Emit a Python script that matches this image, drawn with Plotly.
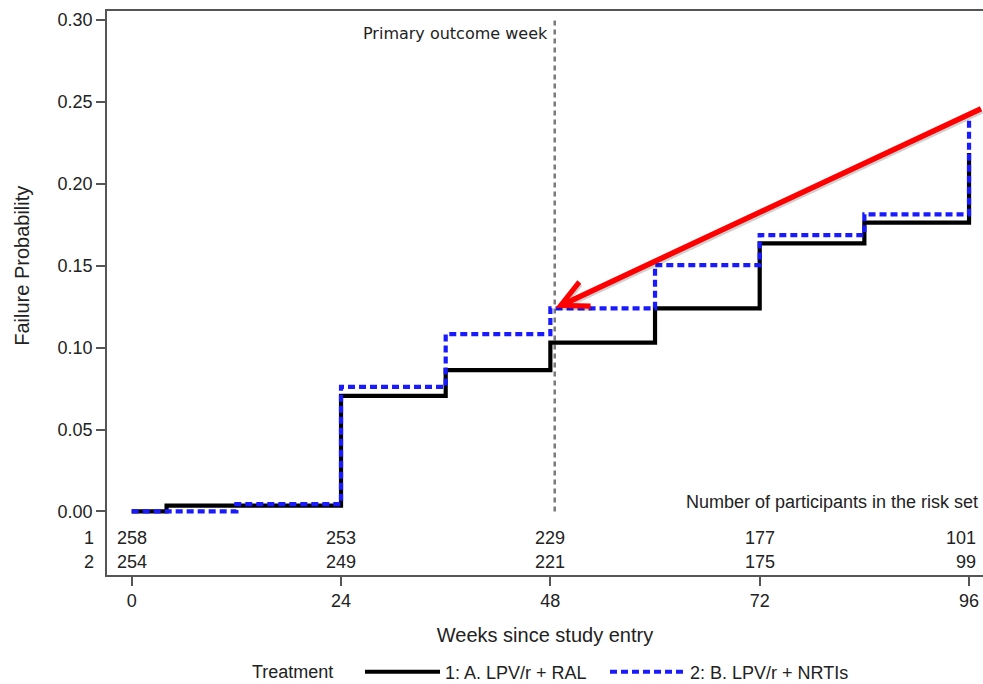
import plotly.graph_objects as go

# ---------------- data ----------------
weeks_black = [0, 4, 24, 36, 48, 60, 72, 84, 96]
fail_black = [0.0, 0.0035, 0.0706, 0.0863, 0.1031, 0.1240, 0.1637, 0.1763, 0.2188]

weeks_blue = [0, 12, 24, 36, 48, 60, 72, 84, 96]
fail_blue = [0.0, 0.0045, 0.0761, 0.1083, 0.1240, 0.1504, 0.1687, 0.1814, 0.2400]

name_black = "1: A. LPV/r + RAL"
name_blue = "2: B. LPV/r + NRTIs"

tick_weeks = [0, 24, 48, 72, 96]
risk_group1 = [258, 253, 229, 177, 101]
risk_group2 = [254, 249, 221, 175, 99]
risk_row_labels = ["1", "2"]

y_ticks = [0.00, 0.05, 0.10, 0.15, 0.20, 0.25, 0.30]
primary_week = 48.5

# ---------------- style ----------------
FONT = "Liberation Sans, Arial, sans-serif"
TXT = "#222222"
AX = "#555555"

fig = go.Figure()

fig.add_trace(go.Scatter(
    x=weeks_black, y=fail_black, mode="lines", line_shape="hv",
    name=name_black, line=dict(color="black", width=4.2),
))
fig.add_trace(go.Scatter(
    x=weeks_blue, y=fail_blue, mode="lines", line_shape="hv",
    name=name_blue, line=dict(color="#1a1aff", width=4.2, dash="7px,4px"),
))

# primary outcome reference line
fig.add_shape(type="line", xref="x", yref="y",
              x0=primary_week, x1=primary_week, y0=0, y1=0.30,
              line=dict(color="#7a7a7a", width=2.5, dash="5px,4px"), layer="below")

ann = []
ann.append(dict(x=47.94, y=0.2915, xref="x", yref="y", text="Primary outcome week",
                showarrow=False, xanchor="right", yanchor="middle",
                font=dict(family="DejaVu Sans, sans-serif", size=16, color=TXT)))

ann.append(dict(x=97.3, y=0.0058, xref="x", yref="y",
                text="Number of participants in the risk set",
                showarrow=False, xanchor="right", yanchor="middle",
                font=dict(family=FONT, size=18, color=TXT)))

row_y = [-0.0162, -0.0309]
for row, vals in enumerate([risk_group1, risk_group2]):
    for wk, v in zip(tick_weeks, vals):
        last = wk == tick_weeks[-1]
        ann.append(dict(x=97.0 if last else wk, y=row_y[row], xref="x", yref="y",
                        text=str(v), showarrow=False,
                        xanchor="right" if last else "center", yanchor="middle",
                        font=dict(family=FONT, size=18, color=TXT)))
    ann.append(dict(x=-0.012, y=row_y[row], xref="paper", yref="y",
                    text=risk_row_labels[row], showarrow=False,
                    xanchor="right", yanchor="middle",
                    font=dict(family=FONT, size=18, color=TXT)))

# y-axis title (centered on the 0 - 0.30 part of the axis)
ann.append(dict(x=-0.097, y=0.15, xref="paper", yref="y", text="Failure Probability",
                textangle=-90, showarrow=False, xanchor="center", yanchor="middle",
                font=dict(family=FONT, size=20, color=TXT)))

# legend heading
ann.append(dict(x=0.1632, y=-0.172, xref="paper", yref="paper", text="Treatment",
                showarrow=False, xanchor="left", yanchor="middle",
                font=dict(family=FONT, size=18, color=TXT)))

# red arrow with a soft shadow
tip_x, tip_y = 48.6, 0.1243
tail_x, tail_y = 97.55, 0.2463
ann.append(dict(x=tip_x + 0.12, y=tip_y - 0.0013, ax=tail_x + 0.12, ay=tail_y - 0.0013,
                xref="x", yref="y", axref="x", ayref="y", text="",
                showarrow=True, arrowhead=5, arrowsize=0.95, arrowwidth=5.5,
                arrowcolor="rgba(0,0,0,0.18)", standoff=0))
ann.append(dict(x=tip_x, y=tip_y, ax=tail_x, ay=tail_y,
                xref="x", yref="y", axref="x", ayref="y", text="",
                showarrow=True, arrowhead=5, arrowsize=0.95, arrowwidth=5.5,
                arrowcolor="#ff0000", standoff=0))

fig.update_layout(
    width=983, height=684,
    margin=dict(l=107, r=0, t=11, b=109, autoexpand=False),
    paper_bgcolor="white", plot_bgcolor="white",
    font=dict(family=FONT, size=18, color=TXT),
    showlegend=True,
    legend=dict(orientation="h", x=0.2888, xanchor="left",
                y=0.0175, yref="container", yanchor="middle",
                font=dict(family=FONT, size=18, color=TXT),
                entrywidth=155, entrywidthmode="pixels", itemwidth=75,
                bgcolor="rgba(0,0,0,0)"),
    annotations=ann,
)

fig.update_xaxes(
    range=[-2.83, 97.6], tickvals=tick_weeks, ticktext=[str(t) for t in tick_weeks],
    showgrid=False, zeroline=False, showline=True, linecolor=AX, linewidth=1.5,
    mirror=True, ticks="outside", ticklen=9, tickwidth=1.5, tickcolor=AX,
    tickfont=dict(family=FONT, size=18, color=TXT),
    title=dict(text="Weeks since study entry", font=dict(family=FONT, size=20, color=TXT),
               standoff=18),
)
fig.update_yaxes(
    range=[-0.0388, 0.3055], tickvals=y_ticks, tickformat=".2f",
    showgrid=False, zeroline=False, showline=True, linecolor=AX, linewidth=1.5,
    mirror=False, ticks="outside", ticklen=9, tickwidth=1.5, tickcolor=AX,
    tickfont=dict(family=FONT, size=18, color=TXT),
)

fig.write_html("out.html", config={"displayModeBar": False},
               post_script="document.body.style.margin='0';")
